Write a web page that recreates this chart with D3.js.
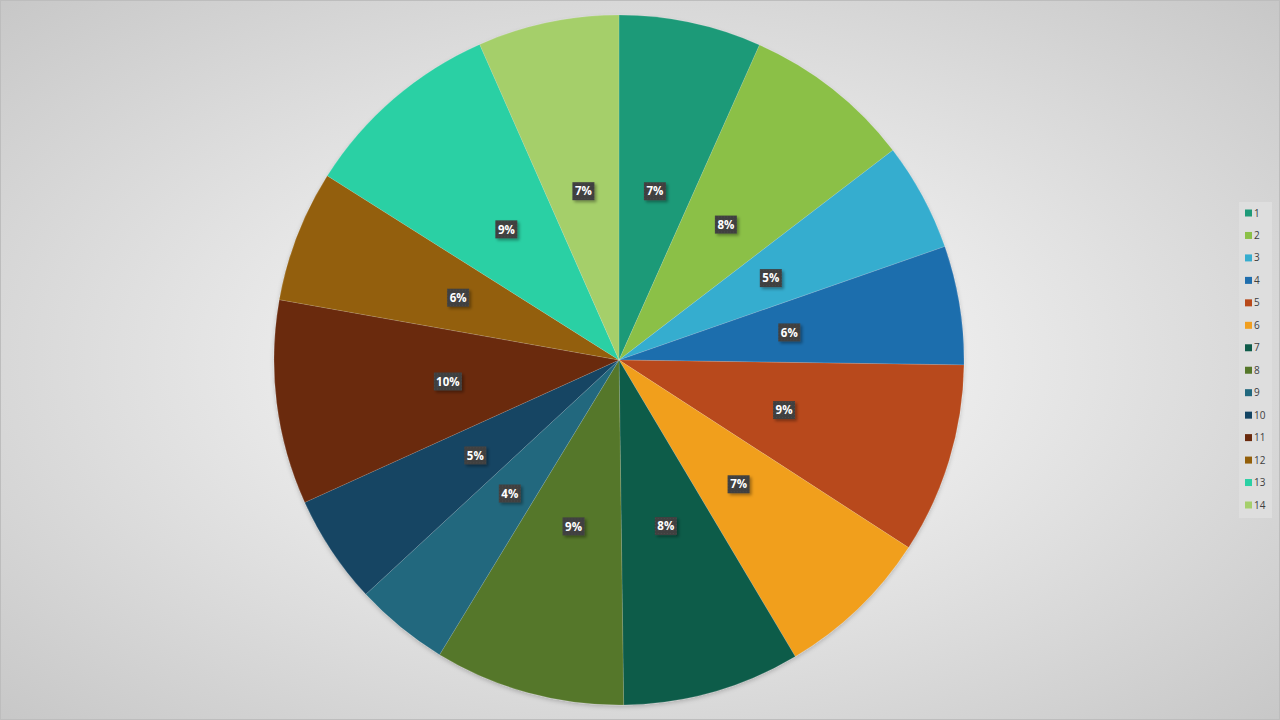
<!DOCTYPE html>
<html><head><meta charset="utf-8">
<script src="https://cdn.jsdelivr.net/npm/d3@7"></script>
<style>html,body{margin:0;padding:0;background:#fff;}svg{display:block;}</style>
</head><body>
<script>
const categories = ["1","2","3","4","5","6","7","8","9","10","11","12","13","14"];
const values = [6.66, 7.9, 5.06, 5.55, 8.9, 7.3, 8.3, 8.9, 4.4, 5.1, 9.55, 6.15, 9.4, 6.6];
const colors = ["#1e9a78","#8bc047","#36adcf","#1f6ead","#b8491a","#f19f1f","#0f5c4a","#557729","#21687e","#134463","#6a2a0d","#935f0a","#2ad0a4","#a5cf6b"];

const W = 1280, H = 720;
const svg = d3.select("body").append("svg").attr("width", W).attr("height", H);
const defs = svg.append("defs");
const rg = defs.append("radialGradient").attr("id","bg").attr("cx","50%").attr("cy","50%").attr("r","75%");
rg.append("stop").attr("offset","0%").attr("stop-color","#ffffff");
rg.append("stop").attr("offset","100%").attr("stop-color","#c4c4c4");
svg.append("rect").attr("x",0.5).attr("y",0.5).attr("width",W-1).attr("height",H-1)
  .attr("fill","url(#bg)").attr("stroke","#bdbdbd");

const pat = defs.append("pattern").attr("id","dots").attr("width",3).attr("height",3).attr("patternUnits","userSpaceOnUse");
pat.append("rect").attr("width",3).attr("height",3).attr("fill","#404040");
pat.append("rect").attr("width",1).attr("height",1).attr("x",1).attr("y",1).attr("fill","#4a4a4a");

const f = defs.append("filter").attr("id","sh").attr("x","-20%").attr("y","-20%").attr("width","150%").attr("height","150%");
f.append("feDropShadow").attr("dx",2).attr("dy",2).attr("stdDeviation",1.5).attr("flood-color","#000").attr("flood-opacity",0.35);
const f2 = defs.append("filter").attr("id","psh").attr("x","-10%").attr("y","-10%").attr("width","120%").attr("height","120%");
f2.append("feDropShadow").attr("dx",0).attr("dy",2).attr("stdDeviation",2).attr("flood-color","#000").attr("flood-opacity",0.2);

const cx = 619, cy = 360, R = 345;
const total = d3.sum(values);
const pie = d3.pie().sort(null).value(d => d)(values);
const arc = d3.arc().innerRadius(0).outerRadius(R);
const g = svg.append("g").attr("transform", `translate(${cx},${cy})`);
g.append("g").attr("filter","url(#psh)").selectAll("path").data(pie).join("path")
  .attr("d", arc).attr("fill", (d,i) => colors[i])
  .attr("stroke", "rgba(255,255,255,0.25)").attr("stroke-width", 0.5);

const labelArc = d3.arc().innerRadius(R*0.5).outerRadius(R*0.5);
const lg = g.selectAll("g.lab").data(pie).join("g").attr("class","lab")
  .attr("transform", d => `translate(${labelArc.centroid(d)})`);
lg.each(function(d){
  const txt = Math.round(d.value/total*100) + "%";
  const w = txt.length > 2 ? 28 : 22;
  const s = d3.select(this);
  s.append("rect").attr("x",-w/2).attr("y",-9).attr("width",w).attr("height",18)
    .attr("fill","url(#dots)").attr("filter","url(#sh)");
  s.append("text").attr("text-anchor","middle").attr("dy","0.36em")
    .attr("font-family","'Open Sans', 'DejaVu Sans', sans-serif").attr("font-weight","bold")
    .attr("font-size",11.5).attr("fill","#fff").text(txt);
});

// legend
const lx = 1239, ly = 202;
svg.append("rect").attr("x",lx).attr("y",ly).attr("width",33).attr("height",316).attr("fill","#dedede");
const y = d3.scalePoint().domain(categories).range([213, 505]);
const li = svg.append("g").selectAll("g").data(categories).join("g")
  .attr("transform", d => `translate(${lx+6},${y(d)})`);
li.append("rect").attr("x",0).attr("y",-3.5).attr("width",7).attr("height",7).attr("fill",(d,i)=>colors[i]);
li.append("text").attr("x",9).attr("dy","0.35em").attr("font-size",10)
  .attr("font-family","'Open Sans', 'DejaVu Sans', sans-serif").attr("fill","#404040").text(d=>d);
</script>
</body></html>
